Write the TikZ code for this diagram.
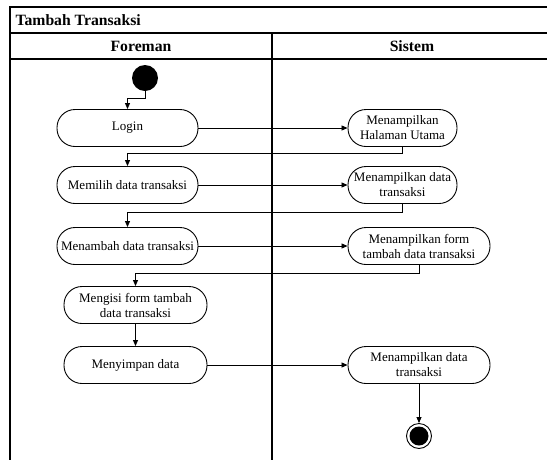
\documentclass[tikz,border=0pt]{standalone}
\usepackage{fontspec}
\setmainfont{Liberation Serif}
\usetikzlibrary{arrows.meta, positioning, calc}

\begin{document}
\begin{tikzpicture}[x=1pt, y=-1pt, font=\fontsize{13}{15}\selectfont,
	act/.style={rectangle, rounded corners=18pt, draw, line width=0.9pt,
		minimum height=37pt, inner sep=1pt, align=center},
	startstate/.style={circle, fill=black, minimum size=26pt, inner sep=0pt},
	endstate/.style={circle, draw, line width=0.9pt, minimum size=25pt, inner sep=0pt,
		path picture={\fill (path picture bounding box.center) circle (9.5pt);}},
	arr/.style={-{Triangle[length=6pt, width=5pt]}, line width=0.8pt},
	lane/.style={draw, line width=1.2pt},
	head/.style={font=\fontsize{15.7}{18}\selectfont\bfseries}]
	\clip (0,0) rectangle (547,459);
	% swimlane frame
	\draw[lane] (10,7) rectangle (560,470);
	\draw[lane] (10,33) -- (560,33);
	\draw[lane] (10,59) -- (560,59);
	\draw[lane] (272,33) -- (272,470);
	\node[head, anchor=west] (title) at (12,20) {Tambah Transaksi};
	\node[head] (foreman) at (141,46) {Foreman};
	\node[head] (sistem) at (412,46) {Sistem};
	% Foreman
	\node[startstate] (start) at (145,78) {};
	\node[act, minimum width=141pt] (login) at (127.5,128) {Login};
	\node[act, minimum width=141pt] (pilih) at (127.5,185) {Memilih data transaksi};
	\node[act, minimum width=141pt] (tambah) at (127.5,246) {Menambah data transaksi};
	\node[act, minimum width=143pt] (isi) at (135.5,305) {Mengisi form tambah\\data transaksi};
	\node[act, minimum width=143pt] (simpan) at (135.5,365) {Menyimpan data};
	% Sistem
	\node[act, minimum width=109pt] (home) at (402.5,128) {Menampilkan\\Halaman Utama};
	\node[act, minimum width=109pt] (tampil) at (402.5,185) {Menampilkan data\\transaksi};
	\node[act, minimum width=142pt] (form) at (419,246) {Menampilkan form\\tambah data transaksi};
	\node[act, minimum width=142pt] (hasil) at (419,365) {Menampilkan data\\transaksi};
	\node[endstate] (finish) at (419,436) {};
	% flow
	\draw[arr] (start.south) -- ++(0,7) -| (login.north);
	\draw[arr] (login) -- (home);
	\draw[arr] (home.south) -- ++(0,6) -| (pilih.north);
	\draw[arr] (pilih) -- (tampil);
	\draw[arr] (tampil.south) -- ++(0,8) -| (tambah.north);
	\draw[arr] (tambah) -- (form);
	\draw[arr] (form.south) -- ++(0,8) -| (isi.north);
	\draw[arr] (isi) -- (simpan);
	\draw[arr] (simpan) -- (hasil);
	\draw[arr] (hasil) -- (finish);
\end{tikzpicture}
\end{document}
